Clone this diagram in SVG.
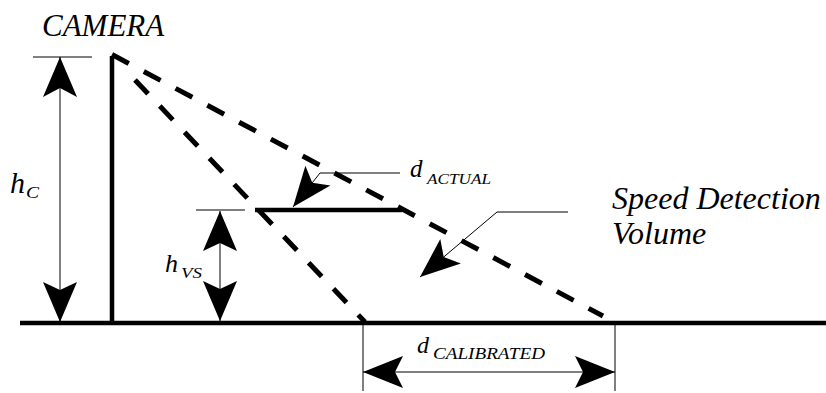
<svg xmlns="http://www.w3.org/2000/svg" width="826" height="393" viewBox="0 0 826 393">
<style>
text{font-family:'Liberation Serif','Times New Roman',serif;font-style:italic;fill:#000}
.thin{stroke:#000;stroke-width:1;fill:none}
.thick{stroke:#000;stroke-width:4.5;fill:none}
.dash{stroke:#000;stroke-width:5;fill:none;stroke-dasharray:19 17}
.head{fill:#000;stroke:none}
</style>
<rect width="826" height="393" fill="#fff"/>
<g id="ground"><line class="thick" x1="20" y1="323" x2="826" y2="323"/></g>
<g id="camera">
<line class="thick" x1="112" y1="56" x2="112" y2="323" stroke-width="4"/>
<text x="42" y="36" font-size="31">CAMERA</text>
</g>
<g id="connectors">
<line class="dash" x1="112" y1="54.5" x2="603" y2="316"/>
<line class="dash" x1="135" y1="80" x2="365" y2="322"/>
<line class="thin" x1="33" y1="57" x2="92" y2="57"/>
<line class="thin" x1="60" y1="57" x2="60" y2="322"/>
<path class="head" d="M60,57 L77,97 L60,88 L43,97 Z"/>
<path class="head" d="M60,322 L77,282 L60,290 L43,282 Z"/>
<line class="thin" x1="196" y1="210" x2="245" y2="210"/>
<line class="thin" x1="220" y1="211" x2="220" y2="321"/>
<path class="head" d="M220,211 L237,251 L220,243 L203,251 Z"/>
<path class="head" d="M220,321 L237,281 L220,289 L203,281 Z"/>
<line class="thin" x1="363" y1="325" x2="363" y2="391"/>
<line class="thin" x1="615" y1="325" x2="615" y2="391"/>
<line class="thin" x1="363" y1="372" x2="615" y2="372"/>
<path class="head" d="M363,372 L403,356 L395,372 L403,388 Z"/>
<path class="head" d="M615,372 L575,356 L583,372 L575,388 Z"/>
<path class="thin" d="M400,173 H320 L293,207"/>
<path class="head" d="M293,207 L305.4,165.7 L312.3,182.7 L330.4,185.6 Z"/>
<path class="thin" d="M568,212 H497 L420,277"/>
<path class="head" d="M420,277 L440.3,239 L443.7,257 L460.9,263.4 Z"/>
</g>
<g id="actual-bar"><line class="thick" x1="255" y1="210" x2="402" y2="210" stroke-width="4"/></g>
<g id="label-hc">
<text x="10" y="193" font-size="30">h</text>
<text x="26" y="198" font-size="16" textLength="13" lengthAdjust="spacingAndGlyphs">C</text>
</g>
<g id="label-hvs">
<text x="165" y="272" font-size="26">h</text>
<text x="181" y="278" font-size="15" textLength="21" lengthAdjust="spacingAndGlyphs">VS</text>
</g>
<g id="label-dactual">
<text x="410" y="177" font-size="25">d</text>
<text x="427" y="184" font-size="15" textLength="64" lengthAdjust="spacingAndGlyphs">ACTUAL</text>
</g>
<g id="label-sdv">
<text x="612" y="209" font-size="32">Speed Detection</text>
<text x="612" y="244" font-size="32">Volume</text>
</g>
<g id="label-dcal">
<text x="417" y="353" font-size="24">d</text>
<text x="433" y="359" font-size="16" textLength="112" lengthAdjust="spacingAndGlyphs">CALIBRATED</text>
</g>
</svg>
